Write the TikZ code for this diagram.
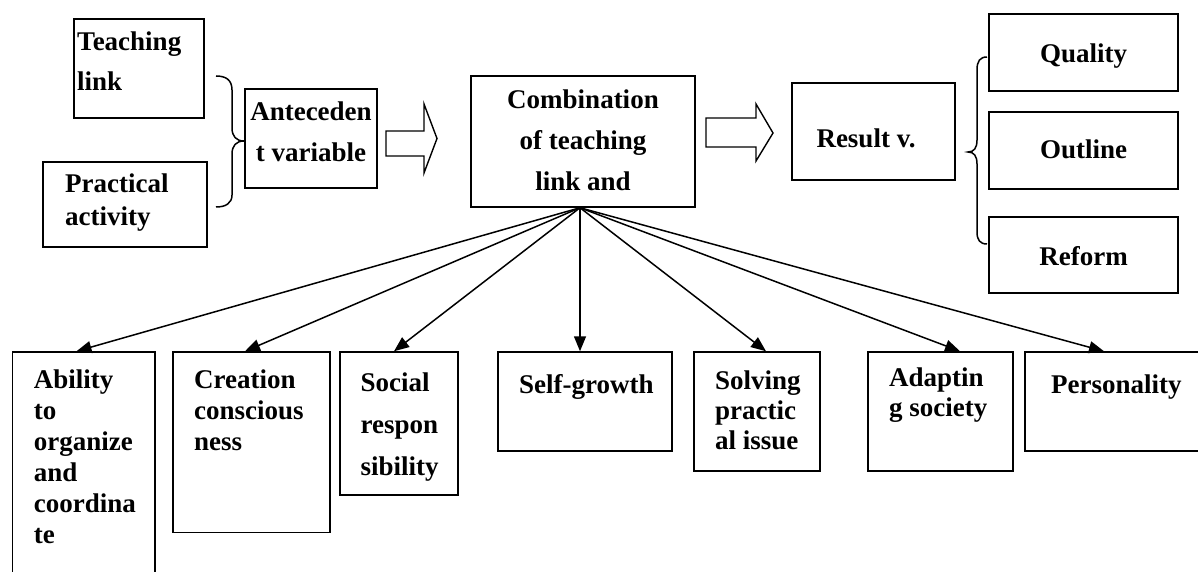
\documentclass[tikz,border=0pt]{standalone}
\usepackage{fontspec}
\setmainfont{Liberation Serif}
\usetikzlibrary{arrows.meta,calc}
\newcommand\fststrut{\rule{0pt}{20.25pt}}
\tikzset{
  box/.style={draw, line width=1.5pt, inner sep=0pt},
  sp/.style={font=\fontsize{27}{#1}\selectfont\bfseries},
  lbl/.style={inner sep=0pt, sp=41, execute at begin node={\fststrut}},
  lblL/.style={lbl, anchor=north west, align=left},
  lblC/.style={lbl, anchor=north, align=center},
  conn/.style={line width=1.5pt, -{Triangle[length=15pt,width=12pt]}},
  hollow/.style={draw, line width=1.4pt, fill=white, line join=miter},
  brace/.style={draw, line width=1.5pt},
}
\begin{document}
\begin{tikzpicture}[x=1pt,y=-1pt]
\useasboundingbox (0,0) rectangle (1198,572);
\fill[white] (0,0) rectangle (1198,572);
% top boxes
\node[box, minimum width=130pt, minimum height=99pt] (TL) at (139,68.5) {};
\node[box, minimum width=164pt, minimum height=85pt] (PA) at (125,204.5) {};
\node[box, minimum width=132pt, minimum height=99pt] (AV) at (311,138.5) {};
\node[box, minimum width=224pt, minimum height=131pt] (CO) at (583,141.5) {};
\node[box, minimum width=163pt, minimum height=97pt] (RV) at (873.5,131.5) {};
\node[box, minimum width=189pt, minimum height=77pt] (QU) at (1083.5,52.5) {};
\node[box, minimum width=189pt, minimum height=77pt] (OU) at (1083.5,150.5) {};
\node[box, minimum width=189pt, minimum height=76pt] (RE) at (1083.5,255) {};
% bottom boxes
\node[box, minimum width=142.4pt, minimum height=248pt] (AB) at (83.8,476) {};
\node[box, minimum width=157pt, minimum height=180.5pt] (CR) at (251.5,442.25) {};
\node[box, minimum width=118pt, minimum height=143pt] (SO) at (399,423.5) {};
\node[box, minimum width=174pt, minimum height=99pt] (SG) at (585,401.5) {};
\node[box, minimum width=126pt, minimum height=119pt] (SV) at (757,411.5) {};
\node[box, minimum width=145pt, minimum height=119pt] (AD) at (940.5,411.5) {};
\node[box, minimum width=195pt, minimum height=99pt] (PE) at (1122.5,401.5) {};
% texts
\node[lblL, sp=40] (tTL) at (77,31.75) {Teaching\\link};
\node[lblL, sp=33] (tPA) at (65,173.75) {Practical\\activity};
\node[lblC, sp=41] (tAV) at (311,101.75) {Anteceden\\t variable};
\node[lblC, sp=41] (tCO) at (583,89.75) {Combination\\of teaching\\link and};
\node[lblC] (tRV) at (866,126.75) {Result v.};
\node[lblC] (tQU) at (1083.5,41.75) {Quality};
\node[lblC] (tOU) at (1083.5,137.75) {Outline};
\node[lblC] (tRE) at (1083.5,244.75) {Reform};
\node[lblL, sp=31] (tAB) at (33.7,369.75) {Ability\\to\\organize\\and\\coordina\\te};
\node[lblL, sp=31] (tCR) at (194,369.75) {Creation\\conscious\\ness};
\node[lblL, sp=42] (tSO) at (360.5,372.75) {Social\\respon\\sibility};
\node[lblL] (tSG) at (519,372.75) {Self-growth};
\node[lblL, sp=30] (tSV) at (715,370.75) {Solving\\practic\\al issue};
\node[lblL, sp=30] (tAD) at (889,367.75) {Adaptin\\g society};
\node[lblL] (tPE) at (1051,372.75) {Personality};
% braces
\draw[brace] (216,76) .. controls (226,76) and (232,80) .. (232,90) -- (232,128)
  .. controls (232,136) and (236,141) .. (244,141)
  .. controls (236,141) and (232,146) .. (232,154) -- (232,195)
  .. controls (232,203) and (226,207) .. (216,207);
\draw[brace] (987,57) .. controls (980,57) and (977,61) .. (977,70) -- (977,140)
  .. controls (977,148) and (974,152) .. (968,152)
  .. controls (974,152) and (977,156) .. (977,164) -- (977,232)
  .. controls (977,240) and (980,244) .. (987,244);
% hollow arrows
\draw[hollow] (386,131) -- (424,131) -- (424,104) -- (437,138.5) -- (424,173) -- (424,156) -- (386,156) -- cycle;
\draw[hollow] (706,118) -- (756,118) -- (756,104) -- (773,133) -- (756,161) -- (756,147) -- (706,147) -- cycle;
% connectors
\coordinate (src) at ($(CO.south)+(-3,0)$);
\draw[conn] (src) -- ($(AB.north)+(-7.3,0)$);
\draw[conn] (src) -- ($(CR.north)+(-6.5,0)$);
\draw[conn] (src) -- ($(SO.north)+(-5,0)$);
\draw[conn] (src) -- ($(SG.north)+(-5,0)$);
\draw[conn] (src) -- ($(SV.north)+(9,0)$);
\draw[conn] (src) -- ($(AD.north)+(19.5,0)$);
\draw[conn] (src) -- ($(PE.north)+(-18.5,0)$);
\end{tikzpicture}
\end{document}
